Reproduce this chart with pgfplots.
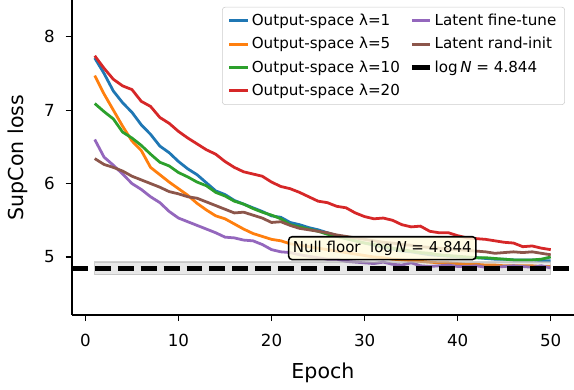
\documentclass[border=0pt]{standalone}
\usepackage{fontspec}
\setmainfont{DejaVu Sans}
\usepackage{pgfplots}
\usepackage{pgfplotstable}
\pgfplotsset{compat=1.18}
\definecolor{cblue}{HTML}{1F77B4}
\definecolor{corange}{HTML}{FF7F0E}
\definecolor{cgreen}{HTML}{2CA02C}
\definecolor{cred}{HTML}{D62728}
\definecolor{cpurple}{HTML}{9467BD}
\definecolor{cbrown}{HTML}{8C564B}
\definecolor{boxfill}{HTML}{FFFBE0}

\pgfplotstableread{
ep l1 l5 l10 l20 ft ri
1 7.71 7.47 7.09 7.74 6.60 6.34
2 7.50 7.22 6.98 7.57 6.36 6.26
3 7.26 7.00 6.88 7.42 6.25 6.22
4 7.10 6.78 6.70 7.33 6.13 6.17
5 6.97 6.58 6.62 7.28 6.00 6.10
6 6.80 6.45 6.52 7.12 5.92 6.05
7 6.67 6.22 6.40 7.05 5.82 6.00
8 6.51 6.12 6.29 6.90 5.74 5.95
9 6.42 6.02 6.24 6.82 5.62 5.89
10 6.30 5.93 6.15 6.71 5.53 5.86
11 6.20 5.84 6.09 6.62 5.48 5.82
12 6.12 5.73 6.02 6.54 5.43 5.80
13 6.01 5.64 5.97 6.46 5.38 5.75
14 5.90 5.56 5.88 6.40 5.33 5.70
15 5.85 5.52 5.83 6.30 5.27 5.65
16 5.77 5.45 5.76 6.22 5.26 5.60
17 5.72 5.38 5.72 6.16 5.23 5.61
18 5.67 5.32 5.66 6.13 5.22 5.57
19 5.62 5.28 5.61 6.10 5.17 5.53
20 5.56 5.24 5.57 6.02 5.10 5.47
21 5.54 5.22 5.52 5.96 5.07 5.48
22 5.47 5.18 5.44 5.93 5.06 5.43
23 5.44 5.16 5.41 5.88 5.03 5.39
24 5.40 5.14 5.38 5.82 5.01 5.37
25 5.37 5.12 5.35 5.76 4.99 5.35
26 5.33 5.10 5.31 5.74 4.97 5.33
27 5.29 5.08 5.28 5.69 4.97 5.30
28 5.25 5.06 5.25 5.67 4.94 5.28
29 5.22 5.04 5.22 5.60 4.93 5.26
30 5.19 5.02 5.19 5.55 4.92 5.24
31 5.16 5.00 5.17 5.52 4.91 5.22
32 5.13 4.99 5.15 5.53 4.93 5.20
33 5.11 4.97 5.12 5.50 4.90 5.19
34 5.08 4.96 5.10 5.44 4.89 5.17
35 5.07 4.95 5.08 5.41 4.92 5.16
36 5.05 4.94 5.06 5.42 4.88 5.14
37 5.03 4.93 5.05 5.35 4.87 5.13
38 5.02 4.92 5.03 5.33 4.88 5.12
39 5.01 4.92 5.02 5.33 4.89 5.11
40 5.00 4.91 5.01 5.29 4.87 5.10
41 4.99 4.90 5.00 5.26 4.87 5.09
42 4.99 4.90 4.99 5.25 4.88 5.08
43 4.98 4.89 4.99 5.24 4.86 5.07
44 4.97 4.89 4.98 5.22 4.86 5.05
45 4.97 4.88 4.97 5.20 4.87 5.06
46 4.96 4.88 4.96 5.19 4.88 5.07
47 4.96 4.88 4.96 5.14 4.87 5.06
48 4.96 4.88 4.96 5.15 4.86 5.07
49 4.95 4.87 4.97 5.12 4.88 5.05
50 4.95 4.87 5.00 5.10 4.85 5.03
}\losstable

\begin{document}
\begin{tikzpicture}[x=1pt,y=1pt]
\useasboundingbox (0,0) rectangle (413.3,280.8);
\begin{axis}[
  at={(51.8pt,54pt)}, anchor=south west,
  scale only axis, width=361.5pt, height=226.8pt,
  xmin=-1.45, xmax=52.5, ymin=4.21, ymax=8.5,
  axis x line*=bottom, axis y line*=left,
  axis line style={line width=1.1pt, -},
  xtick={0,10,20,30,40,50}, ytick={5,6,7,8},
  tick style={line width=0.9pt, black},
  major tick length=4.5pt, tick align=outside,
  ticklabel style={font=\fontsize{12}{14}\selectfont},
  xticklabel style={yshift=-5.5pt},
  yticklabel style={xshift=-4.3pt},
  /pgf/number format/assume math mode=true,
  xlabel={Epoch}, ylabel={SupCon loss},
  label style={font=\fontsize{14.8}{17}\selectfont},
  xlabel style={at={(axis description cs:0.5,-0.183)}, anchor=center},
  ylabel style={at={(axis description cs:-0.1076,0.5)}, anchor=center},
  clip=false,
  legend style={at={(0.982,0.978)}, anchor=north east,
    draw=black!20, rounded corners=2pt, fill=white, fill opacity=0.8, text opacity=1,
    font=\fontsize{10.9}{12}\selectfont, inner xsep=4pt, inner ysep=3pt,
    /tikz/every even column/.append style={column sep=5pt},
    row sep=3pt},
  legend columns=2, legend cell align=left,
  legend image code/.code={\draw[#1] (0pt,0pt) -- (13pt,0pt);},
]
\addplot[cblue, line width=2pt, forget plot] table[x=ep, y=l1] {\losstable};
\addplot[corange, line width=2pt, forget plot] table[x=ep, y=l5] {\losstable};
\addplot[cgreen, line width=2pt, forget plot] table[x=ep, y=l10] {\losstable};
\addplot[cred, line width=2pt, forget plot] table[x=ep, y=l20] {\losstable};
\addplot[cpurple, line width=2pt, forget plot] table[x=ep, y=ft] {\losstable};
\addplot[cbrown, line width=2pt, forget plot] table[x=ep, y=ri] {\losstable};
\addplot[fill=gray, fill opacity=0.18, draw=gray!60, draw opacity=0.6, line width=0.8pt, forget plot]
  coordinates {(1,4.757) (50,4.757) (50,4.931) (1,4.931) (1,4.757)};
\addplot[black, line width=3pt, dash pattern=on 11.5pt off 5pt, forget plot]
  coordinates {(-1.45,4.844) (52.5,4.844)};
\node[draw=black, line width=1.1pt, rounded corners=2.5pt, fill=boxfill, fill opacity=0.85, text opacity=1,
  font=\fontsize{10.8}{12}\selectfont, inner sep=3pt] at (axis cs:31.9,5.12)
  {Null floor\ \ log\,\textit{N} = 4.844};

\addlegendimage{cblue, line width=2.2pt}
\addlegendentry{Output-space λ=1}
\addlegendimage{cpurple, line width=2.2pt}
\addlegendentry{Latent fine-tune}
\addlegendimage{corange, line width=2.2pt}
\addlegendentry{Output-space λ=5}
\addlegendimage{cbrown, line width=2.2pt}
\addlegendentry{Latent rand-init}
\addlegendimage{cgreen, line width=2.2pt}
\addlegendentry{Output-space λ=10}
\addlegendimage{black, line width=3pt}
\addlegendentry{log\,\textit{N} = 4.844}
\addlegendimage{cred, line width=2.2pt}
\addlegendentry{Output-space λ=20}
\end{axis}
\end{tikzpicture}
\end{document}
